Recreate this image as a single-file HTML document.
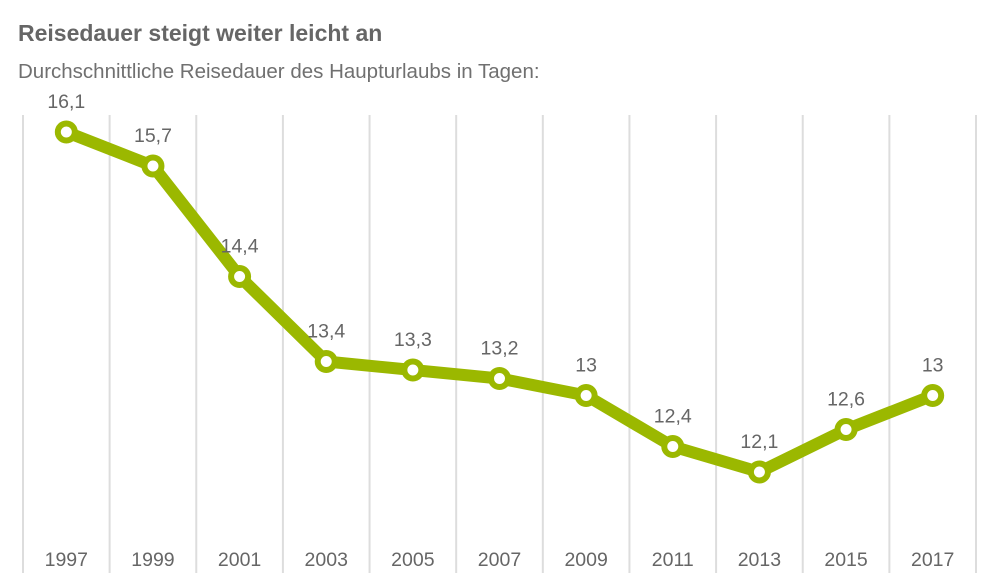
<!DOCTYPE html>
<html><head><meta charset="utf-8"><style>
body{margin:0;background:#fff;font-family:"Liberation Sans",Arial,sans-serif;}
svg{display:block}
</style></head><body>
<svg width="1000" height="583" viewBox="0 0 1000 583">
<text x="18" y="41" font-size="23" font-weight="bold" fill="#666">Reisedauer steigt weiter leicht an</text>
<text x="18" y="78" font-size="20.5" fill="#707070">Durchschnittliche Reisedauer des Haupturlaubs in Tagen:</text>
<g id="grid"></g><g id="xlabels"></g><g id="series"></g><g id="vlabels"></g>
</svg>
<script>
const categories=["1997","1999","2001","2003","2005","2007","2009","2011","2013","2015","2017"];
const values=[16.1,15.7,14.4,13.4,13.3,13.2,13,12.4,12.1,12.6,13];
const valueLabels=["16,1","15,7","14,4","13,4","13,3","13,2","13","12,4","12,1","12,6","13"];
const NS="http://www.w3.org/2000/svg";
const left=23,right=976,bw=(right-left)/categories.length;
const x=i=>left+bw*(i+0.5);
const y=v=>132+(16.1-v)*85;
function mk(t,a,p){const e=document.createElementNS(NS,t);for(const k in a)e.setAttribute(k,a[k]);p.appendChild(e);return e;}
const grid=document.getElementById('grid');
for(let i=0;i<=categories.length;i++){
 const l=mk('line',{x1:left+bw*i,x2:left+bw*i,y1:115,y2:573,stroke:'#ddd','stroke-width':2},grid);
 
 
}
const xl=document.getElementById('xlabels');
categories.forEach((c,i)=>{
 const t=mk('text',{x:x(i),y:566,'text-anchor':'middle','font-size':19.5,fill:'#666'},xl);
 t.textContent=c;
 
 
});
const s=document.getElementById('series');
const pl=mk('polyline',{points:values.map((v,i)=>x(i)+','+y(v)).join(' '),fill:'none',stroke:'#9bb800','stroke-width':12,'stroke-linejoin':'round'},s);


const vl=document.getElementById('vlabels');
values.forEach((v,i)=>{
 const c=mk('circle',{cx:x(i),cy:y(v),r:8.5,fill:'#fff',stroke:'#9bb800','stroke-width':6},s);
 
 
 const t=mk('text',{x:x(i),y:y(v)-24,'text-anchor':'middle','font-size':19.5,fill:'#666'},vl);
 t.textContent=valueLabels[i];
 
 
});
</script>
</body></html>
